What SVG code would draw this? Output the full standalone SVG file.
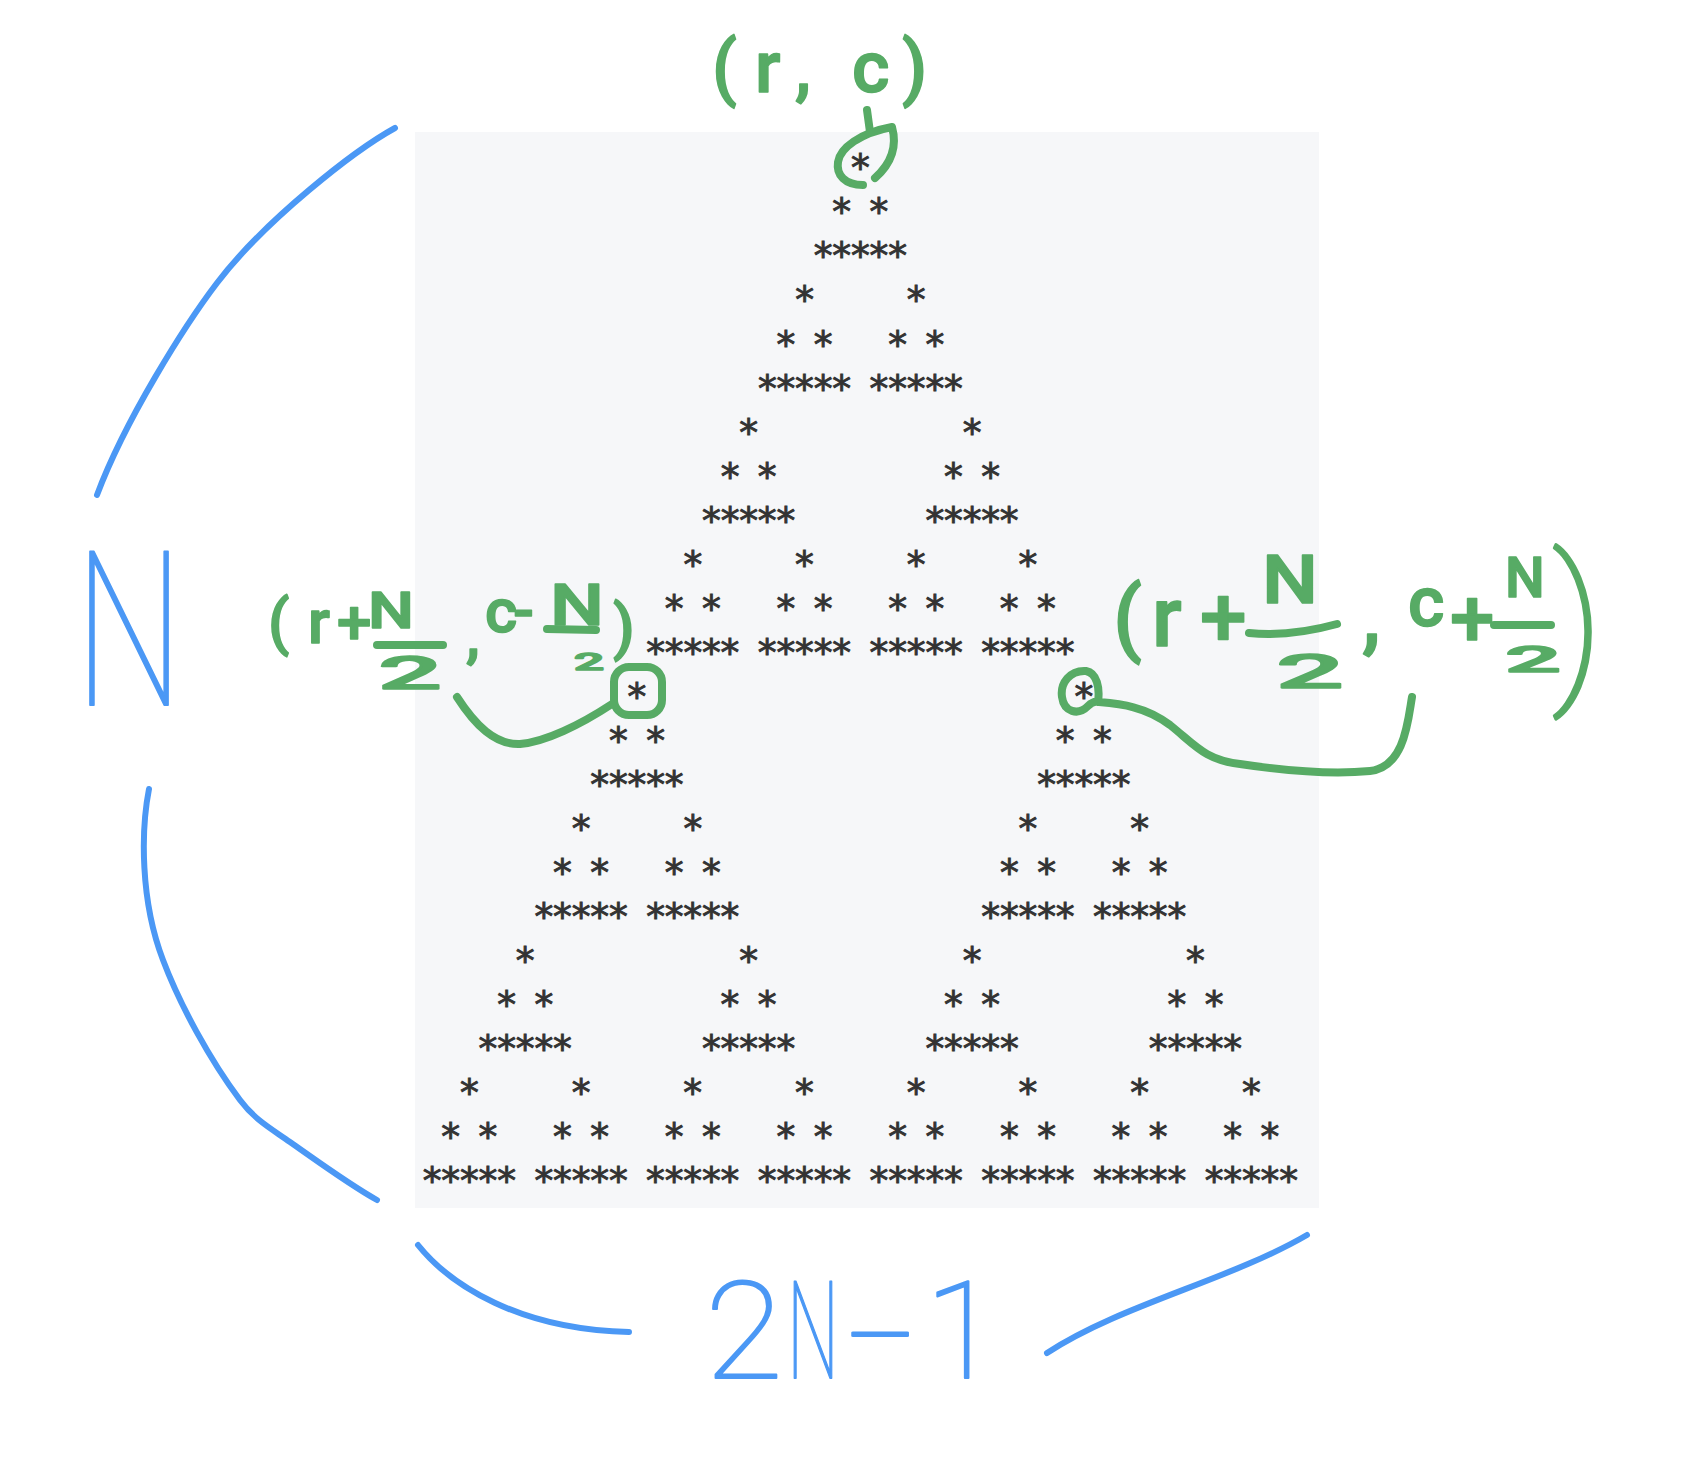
<svg xmlns="http://www.w3.org/2000/svg" width="1700" height="1472" viewBox="0 0 1700 1472">
<style>
.bg{fill:#ffffff}
.box{fill:#f6f7f9}
.stars text{font-family:"DejaVu Sans Mono","Liberation Mono",monospace;font-size:37.8px;letter-spacing:-4.14px;fill:#333333;stroke:#333333;stroke-width:0.9px;white-space:pre}
.hb{fill:none;stroke:#4b98f5;stroke-width:6;stroke-linecap:round;stroke-linejoin:round}
.hg{fill:none;stroke:#57ab65;stroke-width:8;stroke-linecap:round;stroke-linejoin:round}
.tg{font-family:Roboto,"Noto Sans","Liberation Sans",sans-serif;font-weight:500;fill:#57ab65;stroke:#57ab65;stroke-width:1.5;stroke-linejoin:round}
.tb{font-family:Roboto,"Noto Sans","Liberation Sans",sans-serif;font-weight:100;fill:#4b98f5;stroke:#4b98f5;stroke-width:2;stroke-linejoin:round}
</style>
<rect class="bg" x="0" y="0" width="1700" height="1472"/>
<g id="pattern">
<rect class="box" x="415" y="132" width="904" height="1076"/>
<g class="stars" xml:space="preserve">
<text x="848.99" y="181.3">*</text>
<text x="830.37" y="225.3">* *</text>
<text x="811.75" y="269.4">*****</text>
<text x="793.13" y="313.4">*     *</text>
<text x="774.51" y="357.5">* *   * *</text>
<text x="755.89" y="401.5">***** *****</text>
<text x="737.27" y="445.5">*           *</text>
<text x="718.65" y="489.6">* *         * *</text>
<text x="700.03" y="533.6">*****       *****</text>
<text x="681.41" y="577.7">*     *     *     *</text>
<text x="662.79" y="621.7">* *   * *   * *   * *</text>
<text x="644.17" y="665.7">***** ***** ***** *****</text>
<text x="625.55" y="709.8">*</text>
<text x="1072.43" y="709.8">*</text>
<text x="606.93" y="753.8">* *</text>
<text x="1053.81" y="753.8">* *</text>
<text x="588.31" y="797.9">*****</text>
<text x="1035.19" y="797.9">*****</text>
<text x="569.69" y="841.9">*     *</text>
<text x="1016.57" y="841.9">*     *</text>
<text x="551.07" y="885.9">* *   * *</text>
<text x="997.95" y="885.9">* *   * *</text>
<text x="532.45" y="930.0">***** *****</text>
<text x="979.33" y="930.0">***** *****</text>
<text x="513.83" y="974.0">*           *</text>
<text x="960.71" y="974.0">*           *</text>
<text x="495.21" y="1018.1">* *         * *</text>
<text x="942.09" y="1018.1">* *         * *</text>
<text x="476.59" y="1062.1">*****       *****</text>
<text x="923.47" y="1062.1">*****       *****</text>
<text x="457.97" y="1106.1">*     *     *     *</text>
<text x="904.85" y="1106.1">*     *     *     *</text>
<text x="439.35" y="1150.2">* *   * *   * *   * *</text>
<text x="886.23" y="1150.2">* *   * *   * *   * *</text>
<text x="420.73" y="1194.2">***** ***** ***** *****</text>
<text x="867.61" y="1194.2">***** ***** ***** *****</text>
</g>
</g>

<g id="label-rc">
<text class="tg" font-size="72" x="712 755 795 820 852 902" y="92">(r, c)</text>
</g>

<g id="label-left">
<text class="tg" font-size="62" x="268 308 337" y="643">(r+</text>
<text class="tg" font-size="50" x="368" y="628" textLength="46" lengthAdjust="spacingAndGlyphs">N</text>
<text class="tg" font-size="46" x="378" y="689" textLength="64" lengthAdjust="spacingAndGlyphs">2</text>
<text class="tg" font-size="62" x="466" y="656">,</text>
<text class="tg" font-size="62" x="485 513" y="632">c-</text>
<text class="tg" font-size="58" x="550" y="625" textLength="54" lengthAdjust="spacingAndGlyphs">N</text>
<text class="tg" font-size="24" x="574" y="670" textLength="30" lengthAdjust="spacingAndGlyphs">2</text>
<text class="tg" font-size="62" x="613" y="648">)</text>
</g>

<g id="label-right">
<text class="tg" font-size="84" x="1113 1152 1200" y="646">(r+</text>
<text class="tg" font-size="66" x="1262" y="603" textLength="56" lengthAdjust="spacingAndGlyphs">N</text>
<text class="tg" font-size="48" x="1276" y="688" textLength="68" lengthAdjust="spacingAndGlyphs">2</text>
<text class="tg" font-size="84" x="1362" y="643">,</text>
<text class="tg" font-size="70" x="1408" y="626">c</text>
<text class="tg" font-size="80" x="1450" y="646">+</text>
<text class="tg" font-size="56" x="1505" y="597">N</text>
<text class="tg" font-size="36" x="1505" y="672" textLength="56" lengthAdjust="spacingAndGlyphs">2</text>
<text class="tg" font-size="170" x="1552" y="680" style="font-weight:100;stroke-width:3">)</text>
</g>

<g id="label-N">
<text class="tb" font-size="216" x="75" y="705" textLength="108" lengthAdjust="spacingAndGlyphs">N</text>
</g>

<g id="label-2N-1">
<text class="tb" font-size="135" y="1378"><tspan x="705" textLength="78" lengthAdjust="spacingAndGlyphs">2</tspan><tspan x="787" textLength="52" lengthAdjust="spacingAndGlyphs">N</tspan><tspan x="846" textLength="70" lengthAdjust="spacingAndGlyphs">-</tspan><tspan x="925">1</tspan></text>
</g>

<g id="connectors">
<path class="hb" d="M395,128 C355,150 265,220 217,283 C185,325 125,420 97,495"/>
<path class="hb" d="M149,789 C141,830 140,900 163,960 C180,1005 210,1060 240,1100 C255,1120 270,1128 290,1142 C320,1163 350,1185 377,1200"/>
<path class="hb" d="M418,1245 C450,1285 520,1330 629,1332"/>
<path class="hb" d="M1047,1353 C1120,1305 1230,1280 1307,1235"/>
<path class="hg" d="M867,110 L870,132"/>
<path class="hg" d="M863,185 C845,185 836,175 838,162 C840,148 860,133 892,127 C897,145 893,162 875,178"/>
<path class="hg" d="M377,645 L443,645"/>
<path class="hg" d="M547,629 L596,630"/>
<rect class="hg" x="614" y="667" width="48" height="48" rx="15"/>
<path class="hg" d="M457,697 C475,725 495,745 520,744 C545,742 580,725 612,704"/>
<path class="hg" d="M1249,633 Q1290,637 1337,624"/>
<path class="hg" d="M1494,625 L1551,625"/>
<path class="hg" d="M1098,702 C1100,688 1097,673 1086,671 C1070,670 1060,683 1062,697 C1064,712 1078,716 1088,706 C1092,702 1095,701 1098,702 C1120,704 1145,706 1170,725 C1195,745 1205,760 1240,764 C1280,770 1330,775 1370,771 C1405,767 1408,720 1412,697"/>
</g>
</svg>
